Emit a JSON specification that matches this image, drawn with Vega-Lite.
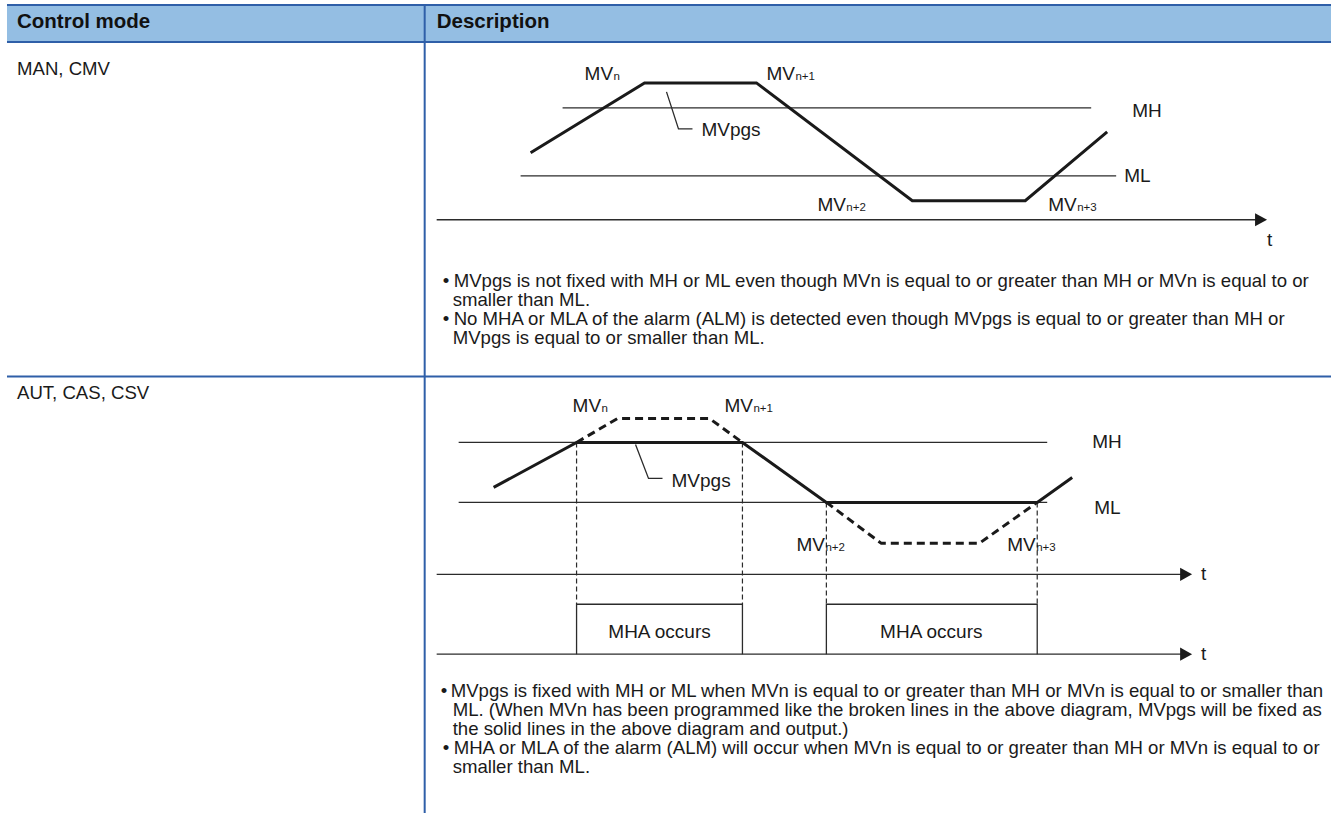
{
  "$schema": "https://vega.github.io/schema/vega-lite/v6.json",
  "width": 1332,
  "height": 814,
  "padding": 0,
  "autosize": {"type": "fit", "contains": "padding"},
  "background": "white",
  "config": {"view": {"stroke": null}, "font": "Liberation Sans"},
  "datasets": {
    "band": [{"x": 7, "y": 4, "x2": 1332, "y2": 42}],
    "blue": [
      {"x": 7, "y": 5, "x2": 1332, "y2": 5},
      {"x": 7, "y": 42, "x2": 1332, "y2": 42},
      {"x": 7, "y": 377, "x2": 1332, "y2": 377},
      {"x": 425, "y": 4, "x2": 425, "y2": 814}
    ],
    "paths": [
      {"id": "r1mh", "ord": 0, "x": 563, "y": 108, "style": "thin"},
      {"id": "r1mh", "ord": 1, "x": 1092, "y": 108, "style": "thin"},
      {"id": "r1ml", "ord": 0, "x": 521, "y": 176, "style": "thin"},
      {"id": "r1ml", "ord": 1, "x": 1117, "y": 176, "style": "thin"},
      {"id": "r1ax", "ord": 0, "x": 437, "y": 220, "style": "thin"},
      {"id": "r1ax", "ord": 1, "x": 1260, "y": 220, "style": "thin"},
      {"id": "r1ld", "ord": 0, "x": 667, "y": 92, "style": "thin"},
      {"id": "r1ld", "ord": 1, "x": 679, "y": 129, "style": "thin"},
      {"id": "r1ld", "ord": 2, "x": 693, "y": 129, "style": "thin"},
      {"id": "r2mh", "ord": 0, "x": 459, "y": 443, "style": "thin"},
      {"id": "r2mh", "ord": 1, "x": 1048, "y": 443, "style": "thin"},
      {"id": "r2ml", "ord": 0, "x": 459, "y": 503, "style": "thin"},
      {"id": "r2ml", "ord": 1, "x": 1048, "y": 503, "style": "thin"},
      {"id": "r2ax1", "ord": 0, "x": 437, "y": 575, "style": "thin"},
      {"id": "r2ax1", "ord": 1, "x": 1185, "y": 575, "style": "thin"},
      {"id": "r2ax2", "ord": 0, "x": 437, "y": 655, "style": "thin"},
      {"id": "r2ax2", "ord": 1, "x": 1185, "y": 655, "style": "thin"},
      {"id": "r2b1", "ord": 0, "x": 577, "y": 655, "style": "thin"},
      {"id": "r2b1", "ord": 1, "x": 577, "y": 605, "style": "thin"},
      {"id": "r2b1", "ord": 2, "x": 743, "y": 605, "style": "thin"},
      {"id": "r2b1", "ord": 3, "x": 743, "y": 655, "style": "thin"},
      {"id": "r2b2", "ord": 0, "x": 827, "y": 655, "style": "thin"},
      {"id": "r2b2", "ord": 1, "x": 827, "y": 605, "style": "thin"},
      {"id": "r2b2", "ord": 2, "x": 1038, "y": 605, "style": "thin"},
      {"id": "r2b2", "ord": 3, "x": 1038, "y": 655, "style": "thin"},
      {"id": "r2ld", "ord": 0, "x": 636, "y": 445, "style": "thin"},
      {"id": "r2ld", "ord": 1, "x": 649, "y": 479, "style": "thin"},
      {"id": "r2ld", "ord": 2, "x": 663, "y": 479, "style": "thin"},
      {"id": "v1", "ord": 0, "x": 577, "y": 443, "style": "thindash"},
      {"id": "v1", "ord": 1, "x": 577, "y": 605, "style": "thindash"},
      {"id": "v2", "ord": 0, "x": 743, "y": 443, "style": "thindash"},
      {"id": "v2", "ord": 1, "x": 743, "y": 605, "style": "thindash"},
      {"id": "v3", "ord": 0, "x": 827, "y": 503, "style": "thindash"},
      {"id": "v3", "ord": 1, "x": 827, "y": 605, "style": "thindash"},
      {"id": "v4", "ord": 0, "x": 1038, "y": 503, "style": "thindash"},
      {"id": "v4", "ord": 1, "x": 1038, "y": 605, "style": "thindash"},
      {"id": "r1mv", "ord": 0, "x": 531, "y": 153, "style": "thick"},
      {"id": "r1mv", "ord": 1, "x": 645, "y": 83, "style": "thick"},
      {"id": "r1mv", "ord": 2, "x": 757, "y": 83, "style": "thick"},
      {"id": "r1mv", "ord": 3, "x": 913, "y": 201, "style": "thick"},
      {"id": "r1mv", "ord": 4, "x": 1026, "y": 201, "style": "thick"},
      {"id": "r1mv", "ord": 5, "x": 1108, "y": 132, "style": "thick"},
      {"id": "r2pg", "ord": 0, "x": 494, "y": 488, "style": "thick"},
      {"id": "r2pg", "ord": 1, "x": 577, "y": 443, "style": "thick"},
      {"id": "r2pg", "ord": 2, "x": 743, "y": 443, "style": "thick"},
      {"id": "r2pg", "ord": 3, "x": 827, "y": 503, "style": "thick"},
      {"id": "r2pg", "ord": 4, "x": 1038, "y": 503, "style": "thick"},
      {"id": "r2pg", "ord": 5, "x": 1073, "y": 478, "style": "thick"},
      {"id": "d1", "ord": 0, "x": 577, "y": 443, "style": "thickdash"},
      {"id": "d1", "ord": 1, "x": 618, "y": 419, "style": "thickdash"},
      {"id": "d1", "ord": 2, "x": 710, "y": 419, "style": "thickdash"},
      {"id": "d1", "ord": 3, "x": 743, "y": 443, "style": "thickdash"},
      {"id": "d2", "ord": 0, "x": 827, "y": 503, "style": "thickdash"},
      {"id": "d2", "ord": 1, "x": 882, "y": 544, "style": "thickdash"},
      {"id": "d2", "ord": 2, "x": 980, "y": 544, "style": "thickdash"},
      {"id": "d2", "ord": 3, "x": 1038, "y": 503, "style": "thickdash"}
    ],
    "arrows": [
      {"x": 1268, "y": 220},
      {"x": 1193, "y": 575},
      {"x": 1193, "y": 655}
    ],
    "texts": [
      {"role": "head", "x": 17, "y": 22, "t": "Control mode"},
      {"role": "head", "x": 437, "y": 22, "t": "Description"},
      {"role": "body", "x": 17, "y": 69, "t": "MAN, CMV"},
      {"role": "body", "x": 17, "y": 393, "t": "AUT, CAS, CSV"},
      {"role": "body", "x": 443, "y": 281, "t": "•"},
      {"role": "body", "x": 454, "y": 281, "t": "MVpgs is not fixed with MH or ML even though MVn is equal to or greater than MH or MVn is equal to or"},
      {"role": "body", "x": 453, "y": 300, "t": "smaller than ML."},
      {"role": "body", "x": 443, "y": 319, "t": "•"},
      {"role": "body", "x": 454, "y": 319, "t": "No MHA or MLA of the alarm (ALM) is detected even though MVpgs is equal to or greater than MH or"},
      {"role": "body", "x": 453, "y": 338, "t": "MVpgs is equal to or smaller than ML."},
      {"role": "body", "x": 441, "y": 692, "t": "•"},
      {"role": "body", "x": 451, "y": 692, "t": "MVpgs is fixed with MH or ML when MVn is equal to or greater than MH or MVn is equal to or smaller than"},
      {"role": "body", "x": 453, "y": 711, "t": "ML. (When MVn has been programmed like the broken lines in the above diagram, MVpgs will be fixed as"},
      {"role": "body", "x": 453, "y": 730, "t": "the solid lines in the above diagram and output.)"},
      {"role": "body", "x": 443, "y": 749, "t": "•"},
      {"role": "body", "x": 454, "y": 749, "t": "MHA or MLA of the alarm (ALM) will occur when MVn is equal to or greater than MH or MVn is equal to or"},
      {"role": "body", "x": 453, "y": 768, "t": "smaller than ML."},
      {"role": "label", "x": 702, "y": 130, "t": "MVpgs"},
      {"role": "label", "x": 1133, "y": 111, "t": "MH"},
      {"role": "label", "x": 1125, "y": 176, "t": "ML"},
      {"role": "label", "x": 1268, "y": 240, "t": "t"},
      {"role": "label", "x": 672, "y": 482, "t": "MVpgs"},
      {"role": "label", "x": 1093, "y": 443, "t": "MH"},
      {"role": "label", "x": 1095, "y": 509, "t": "ML"},
      {"role": "label", "x": 1202, "y": 575, "t": "t"},
      {"role": "label", "x": 1202, "y": 655, "t": "t"},
      {"role": "center", "x": 660, "y": 633, "t": "MHA occurs"},
      {"role": "center", "x": 932, "y": 633, "t": "MHA occurs"},
      {"role": "mv", "x": 585, "y": 80, "t": "MV"},
      {"role": "sub", "x": 614, "y": 80, "t": "n"},
      {"role": "mv", "x": 767, "y": 80, "t": "MV"},
      {"role": "sub", "x": 796, "y": 80, "t": "n+1"},
      {"role": "mv", "x": 818, "y": 211, "t": "MV"},
      {"role": "sub", "x": 847, "y": 211, "t": "n+2"},
      {"role": "mv", "x": 1049, "y": 211, "t": "MV"},
      {"role": "sub", "x": 1078, "y": 211, "t": "n+3"},
      {"role": "mv", "x": 573, "y": 413, "t": "MV"},
      {"role": "sub", "x": 602, "y": 413, "t": "n"},
      {"role": "mv", "x": 725, "y": 413, "t": "MV"},
      {"role": "sub", "x": 754, "y": 413, "t": "n+1"},
      {"role": "mv", "x": 797, "y": 552, "t": "MV"},
      {"role": "sub", "x": 826, "y": 552, "t": "n+2"},
      {"role": "mv", "x": 1008, "y": 552, "t": "MV"},
      {"role": "sub", "x": 1037, "y": 552, "t": "n+3"}
    ]
  },
  "encoding": {
    "x": {"field": "x", "type": "quantitative", "scale": {"domain": [0, 1332], "nice": false, "zero": false}, "axis": null},
    "y": {"field": "y", "type": "quantitative", "scale": {"domain": [0, 814], "reverse": true, "nice": false, "zero": false}, "axis": null}
  },
  "layer": [
    {
      "data": {"name": "band"},
      "mark": {"type": "rect", "color": "#94BEE3"},
      "encoding": {"x2": {"field": "x2"}, "y2": {"field": "y2"}}
    },
    {
      "data": {"name": "blue"},
      "mark": {"type": "rule", "color": "#2F5FA8", "strokeWidth": 2},
      "encoding": {"x2": {"field": "x2"}, "y2": {"field": "y2"}}
    },
    {
      "data": {"name": "paths"},
      "transform": [{"filter": "datum.style === 'thin'"}],
      "mark": {"type": "line", "color": "#2b2b2b", "strokeWidth": 1.3},
      "encoding": {"detail": {"field": "id"}, "order": {"field": "ord"}}
    },
    {
      "data": {"name": "paths"},
      "transform": [{"filter": "datum.style === 'thindash'"}],
      "mark": {"type": "line", "color": "#2b2b2b", "strokeWidth": 1.2, "strokeDash": [5, 3]},
      "encoding": {"detail": {"field": "id"}, "order": {"field": "ord"}}
    },
    {
      "data": {"name": "paths"},
      "transform": [{"filter": "datum.style === 'thick'"}],
      "mark": {"type": "line", "color": "#1a1a1a", "strokeWidth": 3, "strokeJoin": "miter"},
      "encoding": {"detail": {"field": "id"}, "order": {"field": "ord"}}
    },
    {
      "data": {"name": "paths"},
      "transform": [{"filter": "datum.style === 'thickdash'"}],
      "mark": {"type": "line", "color": "#1a1a1a", "strokeWidth": 3, "strokeDash": [8, 5]},
      "encoding": {"detail": {"field": "id"}, "order": {"field": "ord"}}
    },
    {
      "data": {"name": "arrows"},
      "mark": {"type": "point", "shape": "M0,0L-1,-0.55L-1,0.55Z", "size": 576, "filled": true, "color": "#1a1a1a", "opacity": 1, "strokeWidth": 0}
    },
    {
      "data": {"name": "texts"},
      "transform": [{"filter": "datum.role === 'head'"}],
      "mark": {"type": "text", "align": "left", "baseline": "middle", "fontSize": 20.5, "fontWeight": "bold", "color": "#111"},
      "encoding": {"text": {"field": "t"}}
    },
    {
      "data": {"name": "texts"},
      "transform": [{"filter": "datum.role === 'body'"}],
      "mark": {"type": "text", "align": "left", "baseline": "middle", "fontSize": 18.6, "color": "#1a1a1a"},
      "encoding": {"text": {"field": "t"}}
    },
    {
      "data": {"name": "texts"},
      "transform": [{"filter": "datum.role === 'label'"}],
      "mark": {"type": "text", "align": "left", "baseline": "middle", "fontSize": 19, "color": "#1a1a1a"},
      "encoding": {"text": {"field": "t"}}
    },
    {
      "data": {"name": "texts"},
      "transform": [{"filter": "datum.role === 'center'"}],
      "mark": {"type": "text", "align": "center", "baseline": "middle", "fontSize": 19, "color": "#1a1a1a"},
      "encoding": {"text": {"field": "t"}}
    },
    {
      "data": {"name": "texts"},
      "transform": [{"filter": "datum.role === 'mv'"}],
      "mark": {"type": "text", "align": "left", "baseline": "alphabetic", "fontSize": 19, "color": "#1a1a1a"},
      "encoding": {"text": {"field": "t"}}
    },
    {
      "data": {"name": "texts"},
      "transform": [{"filter": "datum.role === 'sub'"}],
      "mark": {"type": "text", "align": "left", "baseline": "alphabetic", "fontSize": 11.5, "color": "#1a1a1a"},
      "encoding": {"text": {"field": "t"}}
    }
  ]
}
